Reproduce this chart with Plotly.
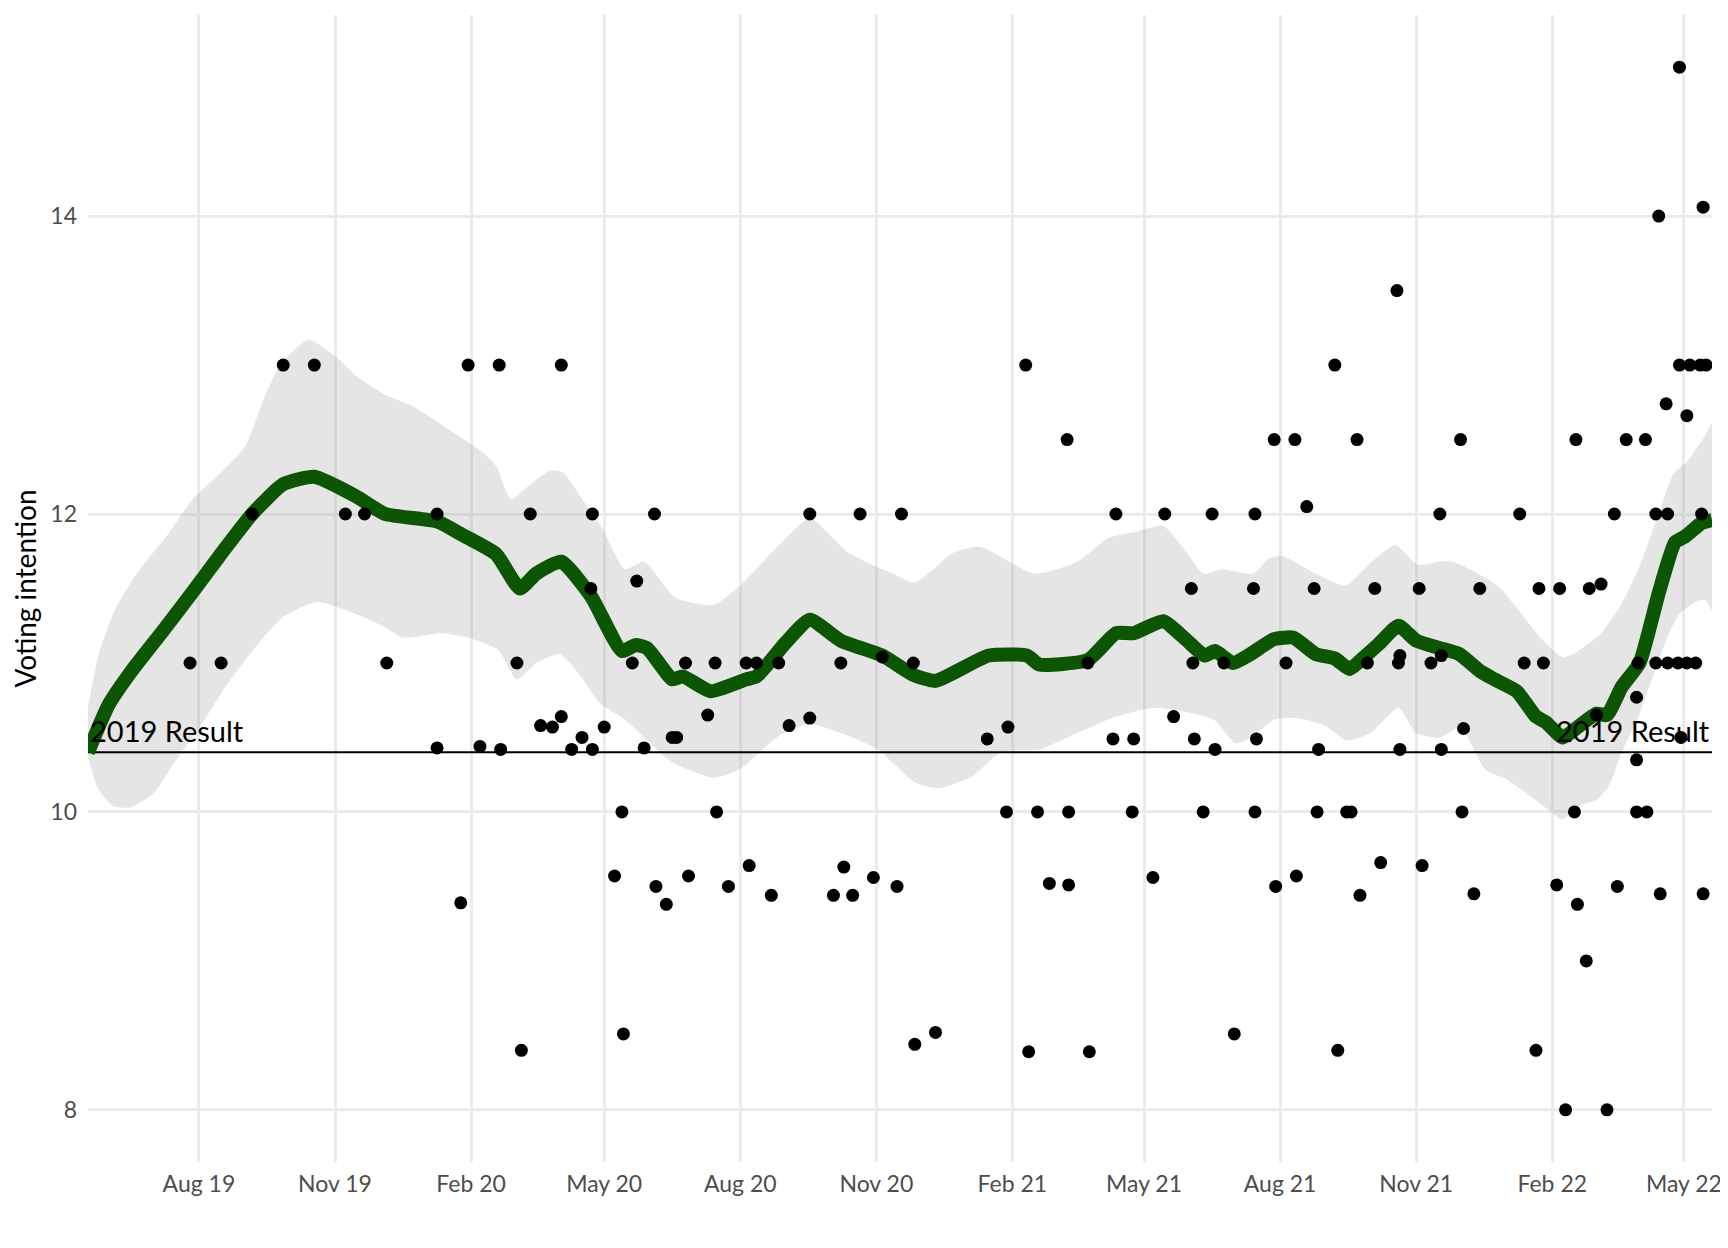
"""
Voting intention: individual polls, smoothed trend with its uncertainty band,
and the 2019 result as a reference line.
"""

import plotly.graph_objects as go

FONT = "Lato"
TREND_GREEN = "#0b5503"
RESULT_2019 = 10.4
X_START = "2019-05-18"
X_END = "2022-05-20"

# individual polls
poll_dates = [
    "2019-07-26", "2019-08-16", "2019-09-06", "2019-09-27", "2019-10-18", "2019-11-08",
    "2019-11-21", "2019-12-06",
    "2020-01-09", "2020-01-09", "2020-01-25", "2020-01-30", "2020-02-07", "2020-02-20",
    "2020-02-21", "2020-03-03", "2020-03-06", "2020-03-12", "2020-03-19", "2020-03-27",
    "2020-04-02", "2020-04-02", "2020-04-09", "2020-04-16", "2020-04-22", "2020-04-23",
    "2020-04-23", "2020-05-01", "2020-05-08", "2020-05-13", "2020-05-14", "2020-05-20",
    "2020-05-23", "2020-05-28", "2020-06-04", "2020-06-05", "2020-06-12", "2020-06-16",
    "2020-06-19", "2020-06-25", "2020-06-27", "2020-07-10", "2020-07-15", "2020-07-16",
    "2020-07-24", "2020-08-05", "2020-08-07", "2020-08-12", "2020-08-22", "2020-08-27",
    "2020-09-03", "2020-09-17", "2020-09-17", "2020-10-03", "2020-10-08", "2020-10-10",
    "2020-10-16", "2020-10-21", "2020-10-30", "2020-11-05", "2020-11-15", "2020-11-18",
    "2020-11-26", "2020-11-27", "2020-12-11",
    "2021-01-15", "2021-01-28", "2021-01-29", "2021-02-10", "2021-02-12", "2021-02-18",
    "2021-02-26", "2021-03-10", "2021-03-11", "2021-03-11", "2021-03-24", "2021-03-25",
    "2021-04-10", "2021-04-12", "2021-04-23", "2021-04-24", "2021-05-07", "2021-05-15",
    "2021-05-21", "2021-06-02", "2021-06-03", "2021-06-04", "2021-06-10", "2021-06-16",
    "2021-06-18", "2021-06-24", "2021-07-01", "2021-07-14", "2021-07-15", "2021-07-15",
    "2021-07-16", "2021-07-28", "2021-07-29", "2021-08-05", "2021-08-11", "2021-08-12",
    "2021-08-19", "2021-08-24", "2021-08-26", "2021-08-27", "2021-09-07", "2021-09-09",
    "2021-09-15", "2021-09-18", "2021-09-22", "2021-09-24", "2021-09-29", "2021-10-04",
    "2021-10-08", "2021-10-19", "2021-10-20", "2021-10-21", "2021-10-21", "2021-11-03",
    "2021-11-05", "2021-11-11", "2021-11-17", "2021-11-18", "2021-11-18", "2021-12-01",
    "2021-12-02", "2021-12-03", "2021-12-10", "2021-12-14",
    "2022-01-10", "2022-01-13", "2022-01-21", "2022-01-23", "2022-01-26", "2022-02-04",
    "2022-02-06", "2022-02-10", "2022-02-16", "2022-02-17", "2022-02-18", "2022-02-24",
    "2022-02-26", "2022-03-03", "2022-03-06", "2022-03-10", "2022-03-15", "2022-03-17",
    "2022-03-23", "2022-03-30", "2022-03-30", "2022-03-30", "2022-03-31", "2022-04-05",
    "2022-04-06", "2022-04-12", "2022-04-12", "2022-04-14", "2022-04-15", "2022-04-19",
    "2022-04-20", "2022-04-20", "2022-04-27", "2022-04-28", "2022-04-28", "2022-04-29",
    "2022-05-03", "2022-05-03", "2022-05-05", "2022-05-09", "2022-05-12", "2022-05-13",
    "2022-05-14", "2022-05-14", "2022-05-16",
]
poll_values = [
    11, 11, 12, 13, 13, 12,
    12, 11,
    12, 10.43, 9.39, 13, 10.44, 13,
    10.42, 11, 8.4, 12, 10.58, 10.57,
    13, 10.64, 10.42, 10.5, 11.5, 12,
    10.42, 10.57, 9.57, 10, 8.51, 11,
    11.55, 10.43, 12, 9.5, 9.38, 10.5,
    10.5, 11, 9.57, 10.65, 11, 10,
    9.5, 11, 9.64, 11, 9.44, 11,
    10.58, 12, 10.63, 9.44, 11, 9.63,
    9.44, 12, 9.56, 11.04, 9.5, 12,
    11, 8.44, 8.52,
    10.49, 10, 10.57, 13, 8.39, 10,
    9.52, 12.5, 10, 9.51, 11, 8.39,
    10.49, 12, 10, 10.49, 9.56, 12,
    10.64, 11.5, 11, 10.49, 10, 12,
    10.42, 11, 8.51, 11.5, 12, 10,
    10.49, 12.5, 9.5, 11, 12.5, 9.57,
    12.05, 11.5, 10, 10.42, 13, 8.4,
    10, 10, 12.5, 9.44, 11, 11.5,
    9.66, 13.5, 11, 11.05, 10.42, 11.5,
    9.64, 11, 12, 11.05, 10.42, 12.5,
    10, 10.56, 9.45, 11.5,
    12, 11, 8.4, 11.5, 11, 9.51,
    11.5, 8, 10, 12.5, 9.38, 9.0,
    11.5, 10.65, 11.53, 8, 12, 9.5,
    12.5, 10.77, 10.35, 10, 11, 12.5,
    10, 12, 11, 14, 9.45, 12.74,
    12, 11, 11, 15, 13, 10.5,
    12.66, 11, 13, 11, 13, 12,
    14.06, 9.45, 13,
]

# smoothed trend
trend_dates = [
    "2019-05-18", "2019-06-01", "2019-06-16", "2019-07-08", "2019-07-28", "2019-08-15",
    "2019-09-06", "2019-09-27", "2019-10-18", "2019-11-15", "2019-12-05", "2020-01-09",
    "2020-01-26", "2020-02-18", "2020-03-05", "2020-03-16", "2020-04-02", "2020-04-22",
    "2020-05-13", "2020-05-22", "2020-05-30", "2020-06-16", "2020-06-23", "2020-07-12",
    "2020-08-05", "2020-08-12", "2020-09-01", "2020-09-17", "2020-10-08", "2020-11-05",
    "2020-11-26", "2020-12-11", "2021-01-16", "2021-02-11", "2021-02-19", "2021-03-24",
    "2021-04-12", "2021-04-24", "2021-05-14", "2021-05-29", "2021-06-11", "2021-06-18",
    "2021-06-30", "2021-07-12", "2021-07-28", "2021-08-10", "2021-08-25", "2021-09-07",
    "2021-09-17", "2021-09-28", "2021-10-07", "2021-10-20", "2021-11-01", "2021-11-17",
    "2021-11-30", "2021-12-15", "2021-12-24", "2022-01-08", "2022-01-21", "2022-01-28",
    "2022-02-08", "2022-02-17", "2022-03-03", "2022-03-10", "2022-03-20", "2022-04-01",
    "2022-04-14", "2022-04-25", "2022-05-02", "2022-05-13", "2022-05-20",
]
trend_values = [
    10.4, 10.72, 10.94, 11.22, 11.48, 11.72,
    12.0, 12.2, 12.25, 12.12, 12.0, 11.95,
    11.86, 11.73, 11.5, 11.6, 11.68, 11.45,
    11.08, 11.12, 11.1, 10.89, 10.91, 10.81,
    10.89, 10.91, 11.14, 11.29, 11.15, 11.05,
    10.92, 10.88, 11.05, 11.05, 10.99, 11.02,
    11.2, 11.2, 11.28, 11.16, 11.05, 11.08,
    11.0, 11.06, 11.16, 11.17, 11.06, 11.03,
    10.96, 11.05, 11.13, 11.25, 11.15, 11.1,
    11.06, 10.94, 10.89, 10.81, 10.64, 10.6,
    10.5, 10.56, 10.66, 10.65, 10.84, 11.0,
    11.47, 11.81, 11.85, 11.94, 11.96,
]

# uncertainty band, upper edge
band_hi_dates = [
    "2019-05-18", "2019-05-25", "2019-06-05", "2019-06-20", "2019-07-10", "2019-07-28",
    "2019-08-15", "2019-09-01", "2019-09-15", "2019-09-25", "2019-10-14", "2019-11-01",
    "2019-11-15", "2019-12-05", "2019-12-24", "2020-01-06", "2020-01-21", "2020-02-08",
    "2020-02-18", "2020-02-28", "2020-03-11", "2020-03-25", "2020-04-03", "2020-04-16",
    "2020-04-30", "2020-05-15", "2020-05-28", "2020-06-18", "2020-07-14", "2020-08-01",
    "2020-08-29", "2020-09-17", "2020-10-13", "2020-11-12", "2020-11-27", "2020-12-23",
    "2021-01-10", "2021-02-16", "2021-03-17", "2021-04-07", "2021-04-25", "2021-05-14",
    "2021-05-30", "2021-06-10", "2021-06-22", "2021-07-14", "2021-07-24", "2021-08-02",
    "2021-08-25", "2021-09-14", "2021-10-02", "2021-10-18", "2021-11-02", "2021-11-17",
    "2021-11-26", "2021-12-09", "2021-12-27", "2022-01-08", "2022-01-24", "2022-02-08",
    "2022-02-17", "2022-02-24", "2022-03-06", "2022-03-20", "2022-04-01", "2022-04-14",
    "2022-04-24", "2022-05-04", "2022-05-16", "2022-05-20",
]
band_hi = [
    10.7, 11.05, 11.35, 11.6, 11.85, 12.1,
    12.27, 12.45, 12.8, 13.0, 13.17, 13.06,
    12.93, 12.8, 12.72, 12.64, 12.54, 12.42,
    12.32, 12.1, 12.19, 12.29, 12.28, 12.1,
    11.9, 11.63, 11.68, 11.44, 11.39, 11.52,
    11.81, 11.97, 11.74, 11.6, 11.54, 11.74,
    11.78, 11.6, 11.68, 11.84, 11.88, 11.92,
    11.74, 11.6, 11.63, 11.6, 11.7, 11.72,
    11.6, 11.52, 11.68, 11.79, 11.66, 11.68,
    11.68, 11.62, 11.51, 11.37, 11.17, 11.04,
    11.07, 11.12, 11.2, 11.4, 11.65, 12.0,
    12.27, 12.36, 12.54, 12.61,
]

# uncertainty band, lower edge
band_lo_dates = [
    "2019-05-18", "2019-05-25", "2019-06-04", "2019-06-15", "2019-07-01", "2019-07-14",
    "2019-08-03", "2019-08-21", "2019-09-11", "2019-09-27", "2019-10-20", "2019-11-07",
    "2019-12-03", "2019-12-17", "2020-01-12", "2020-01-30", "2020-02-19", "2020-03-03",
    "2020-03-16", "2020-04-01", "2020-04-16", "2020-04-28", "2020-05-15", "2020-06-15",
    "2020-07-14", "2020-08-01", "2020-08-27", "2020-09-17", "2020-10-13", "2020-11-02",
    "2020-11-27", "2020-12-13", "2021-01-05", "2021-01-24", "2021-02-19", "2021-03-17",
    "2021-04-12", "2021-05-08", "2021-05-25", "2021-06-17", "2021-07-02", "2021-07-12",
    "2021-07-28", "2021-08-12", "2021-08-31", "2021-09-15", "2021-10-01", "2021-10-20",
    "2021-11-01", "2021-11-17", "2021-12-01", "2021-12-09", "2021-12-18", "2022-01-01",
    "2022-01-14", "2022-01-30", "2022-02-08", "2022-02-19", "2022-03-03", "2022-03-11",
    "2022-03-20", "2022-04-01", "2022-04-10", "2022-04-19", "2022-04-28", "2022-05-11",
    "2022-05-16", "2022-05-20",
]
band_lo = [
    10.37, 10.15, 10.04, 10.03, 10.12, 10.31,
    10.59, 10.87, 11.14, 11.31, 11.41, 11.36,
    11.25, 11.17, 11.2, 11.17, 11.09, 10.89,
    11.0, 11.06, 10.9, 10.73, 10.62, 10.34,
    10.23, 10.29, 10.51, 10.59, 10.51, 10.42,
    10.2, 10.16, 10.24, 10.4, 10.42, 10.53,
    10.64, 10.7, 10.68, 10.62, 10.46, 10.5,
    10.62, 10.63, 10.58, 10.48, 10.53, 10.7,
    10.53, 10.5, 10.57, 10.44, 10.28, 10.22,
    10.13, 10.01, 9.95, 10.04, 10.08, 10.17,
    10.4, 10.66, 10.91, 11.15, 11.33, 11.42,
    11.42, 11.35,
]

tick_dates = [
    "2019-08-01", "2019-11-01", "2020-02-01", "2020-05-01", "2020-08-01", "2020-11-01",
    "2021-02-01", "2021-05-01", "2021-08-01", "2021-11-01", "2022-02-01", "2022-05-01",
]
tick_labels = [
    "Aug 19", "Nov 19", "Feb 20", "May 20", "Aug 20", "Nov 20",
    "Feb 21", "May 21", "Aug 21", "Nov 21", "Feb 22", "May 22",
]
y_ticks = [8, 10, 12, 14]


def build_figure():
    fig = go.Figure()

    # band as one closed polygon: upper edge forwards, lower edge backwards
    fig.add_trace(go.Scatter(
        x=band_hi_dates + band_lo_dates[::-1],
        y=band_hi + band_lo[::-1],
        fill="toself", fillcolor="rgba(153,153,153,0.25)",
        line=dict(width=0, shape="spline", smoothing=0.6),
        mode="lines", hoverinfo="skip",
    ))
    fig.add_trace(go.Scatter(
        x=[X_START, X_END], y=[RESULT_2019, RESULT_2019],
        mode="lines", line=dict(color="black", width=2), hoverinfo="skip",
    ))
    fig.add_trace(go.Scatter(
        x=trend_dates, y=trend_values, mode="lines",
        line=dict(color=TREND_GREEN, width=14, shape="spline", smoothing=0.5),
    ))
    fig.add_trace(go.Scatter(
        x=poll_dates, y=poll_values, mode="markers",
        marker=dict(color="black", size=13, line=dict(width=0)),
    ))

    for xpos, anchor in [(0, "left"), (1, "right")]:
        fig.add_annotation(
            x=xpos, xref="paper", y=RESULT_2019, yref="y",
            text="2019 Result", showarrow=False,
            xanchor=anchor, yanchor="bottom", yshift=2,
            font=dict(family=FONT, size=29, color="black"),
        )

    # the page body keeps its 8px margin; the figure runs to the right edge
    # of the window so the last tick label still fits inside it
    fig.update_layout(
        width=1720, height=1232,
        margin=dict(l=80, r=16, t=7, b=78),
        paper_bgcolor="white", plot_bgcolor="white",
        showlegend=False,
        font=dict(family=FONT),
    )
    fig.update_xaxes(
        type="date", range=[X_START, X_END],
        tickmode="array", tickvals=tick_dates, ticktext=tick_labels,
        tickfont=dict(family=FONT, size=23, color="#4d4d4d"),
        ticklabelstandoff=6,
        showgrid=True, gridcolor="#ebebeb", gridwidth=2.6,
        zeroline=False, showline=False, ticks="",
    )
    fig.update_yaxes(
        range=[7.65, 15.35],
        tickmode="array", tickvals=y_ticks, ticktext=[str(v) for v in y_ticks],
        tickfont=dict(family=FONT, size=23, color="#4d4d4d"),
        ticklabelstandoff=10,
        showgrid=True, gridcolor="#ebebeb", gridwidth=2.6,
        zeroline=False, showline=False, ticks="",
        title=dict(text="Voting intention", font=dict(family=FONT, size=28, color="black"),
                   standoff=8),
    )
    return fig


def main() -> None:
    fig = build_figure()
    fig.write_html("out.html")


if __name__ == "__main__":
    main()
